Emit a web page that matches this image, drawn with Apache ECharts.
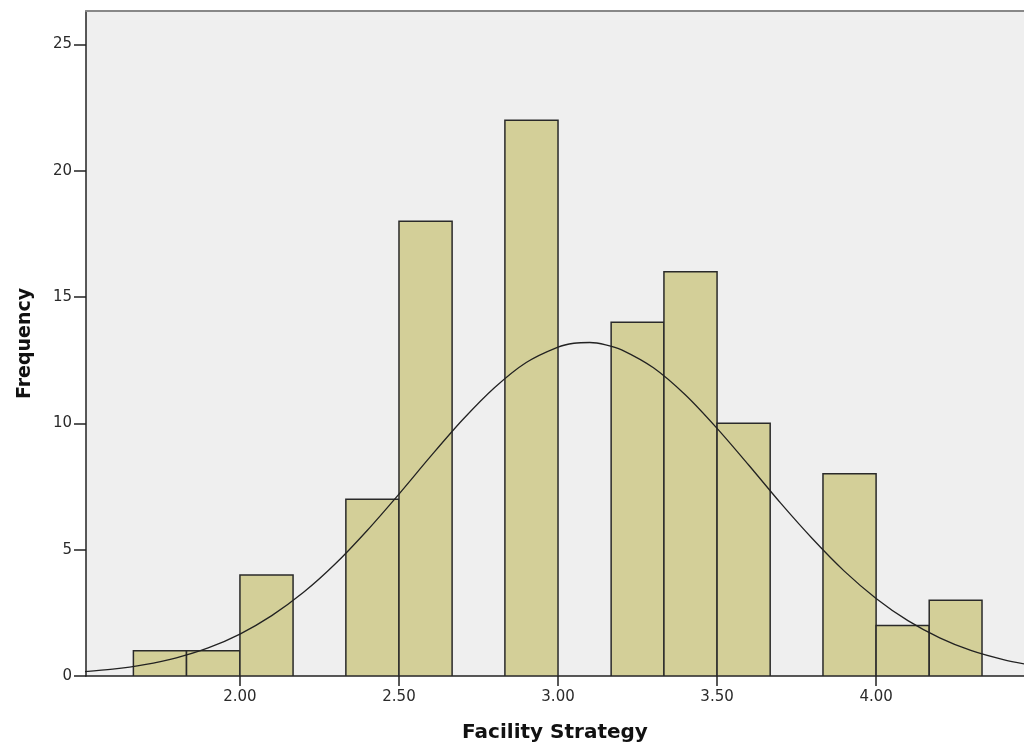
<!DOCTYPE html>
<html>
<head>
<meta charset="utf-8">
<script src="https://cdn.jsdelivr.net/npm/echarts@6/dist/echarts.min.js"></script>
<style>
html,body{margin:0;padding:0;background:#fff;}
#chart{width:1024px;height:749px;}
</style>
</head>
<body>
<div id="chart"></div>
<script>
// Histogram bins (left edge, right edge) and frequencies
var binLeft  = [1.665, 1.832, 2.000, 2.167, 2.333, 2.500, 2.667, 2.833, 3.000, 3.167, 3.333, 3.500, 3.667, 3.833, 4.000, 4.167];
var binRight = [1.832, 2.000, 2.167, 2.333, 2.500, 2.667, 2.833, 3.000, 3.167, 3.333, 3.500, 3.667, 3.833, 4.000, 4.167, 4.333];
var counts   = [1, 1, 4, 0, 7, 18, 0, 22, 0, 14, 16, 10, 0, 8, 2, 3];

// Normal curve
var curveX = [1.5, 1.6, 1.7, 1.8, 1.9, 2.0, 2.1, 2.2, 2.3, 2.4, 2.5, 2.6, 2.7, 2.8, 2.9, 3.0, 3.05, 3.1, 3.15, 3.2, 3.3, 3.4, 3.5, 3.6, 3.7, 3.8, 3.9, 4.0, 4.1, 4.2, 4.3, 4.4, 4.5];
var curveY = [0.16, 0.27, 0.45, 0.72, 1.11, 1.66, 2.39, 3.31, 4.44, 5.76, 7.20, 8.70, 10.14, 11.41, 12.41, 13.02, 13.17, 13.20, 13.11, 12.91, 12.20, 11.13, 9.80, 8.34, 6.84, 5.43, 4.15, 3.07, 2.19, 1.51, 1.00, 0.65, 0.40];

// Tick labels
var xTicks = [2.0, 2.5, 3.0, 3.5, 4.0];
var yTicks = [0, 5, 10, 15, 20, 25];

var xTitle = 'Facility Strategy';
var yTitle = 'Frequency';

var bars = binLeft.map(function (l, i) { return [l, binRight[i], counts[i]]; });
var curve = curveX.map(function (x, i) { return [x, curveY[i]]; });

var chart = echarts.init(document.getElementById('chart'), null, {renderer: 'canvas'});
var XMIN = 1.516, XMAX = 4.465, YMAX = 26.32;
var tickFont = {fontFamily: 'DejaVu Sans', fontSize: 15, color: '#2a2a2a'};

chart.setOption({
  animation: false,
  backgroundColor: '#ffffff',
  grid: {left: 86, right: 0, top: 11, bottom: 73, show: true, backgroundColor: '#efefef', borderWidth: 0},
  xAxis: [{
    type: 'value', min: XMIN, max: XMAX, position: 'bottom',
    splitLine: {show: false},
    axisLine: {show: true, lineStyle: {color: '#222', width: 1.5}},
    axisTick: {show: true, length: 10, lineStyle: {color: '#222', width: 1.5}, customValues: xTicks},
    axisLabel: Object.assign({margin: 14, customValues: xTicks, formatter: function (v) { return v.toFixed(2); }}, tickFont),
    name: xTitle, nameLocation: 'middle', nameGap: 47,
    nameTextStyle: {fontFamily: 'DejaVu Sans', fontSize: 20, fontWeight: 'bold', color: '#111'}
  }, {
    type: 'value', min: XMIN, max: XMAX, position: 'top',
    splitLine: {show: false},
    axisLine: {show: true, lineStyle: {color: '#888', width: 2}},
    axisTick: {show: false}, axisLabel: {show: false}
  }],
  yAxis: {
    type: 'value', min: 0, max: YMAX, interval: 5,
    splitLine: {show: false},
    axisLine: {show: true, lineStyle: {color: '#222', width: 1.5}},
    axisTick: {show: true, length: 12, lineStyle: {color: '#222', width: 1.5}, customValues: yTicks},
    axisLabel: Object.assign({margin: 14, customValues: yTicks}, tickFont),
    name: yTitle, nameLocation: 'middle', nameGap: 51, nameRotate: 90,
    nameTextStyle: {fontFamily: 'DejaVu Sans', fontSize: 19, fontWeight: 'bold', color: '#111'}
  },
  series: [{
    type: 'custom',
    data: bars,
    encode: {x: [0, 1], y: 2},
    clip: true,
    renderItem: function (params, api) {
      var h = api.value(2);
      if (!h) return null;
      var p0 = api.coord([api.value(0), h]);
      var p1 = api.coord([api.value(1), 0]);
      return {
        type: 'rect',
        shape: {x: p0[0], y: p0[1], width: p1[0] - p0[0], height: p1[1] - p0[1]},
        style: {fill: '#d3cf98', stroke: '#2a2a2a', lineWidth: 1.5}
      };
    },
    z: 2
  }, {
    type: 'line',
    data: curve,
    smooth: 0.3,
    symbol: 'none',
    clip: true,
    lineStyle: {color: '#222', width: 1.3},
    z: 3
  }]
});
</script>
</body>
</html>
